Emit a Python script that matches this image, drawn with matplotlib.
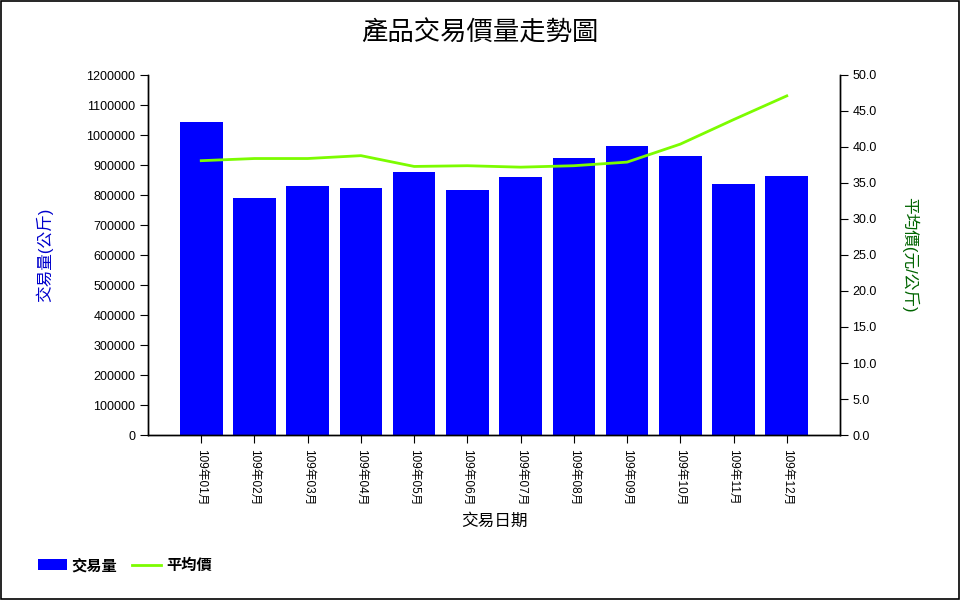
import matplotlib
matplotlib.use("Agg")
import matplotlib.pyplot as plt
from matplotlib.patches import Rectangle
import numpy as np

plt.rcParams.update({
    "font.family": ["Liberation Sans", "Noto Sans CJK TC"],
    "font.size": 9,
    "axes.linewidth": 1.0,
})

months = ["109年01月", "109年02月", "109年03月", "109年04月", "109年05月", "109年06月",
          "109年07月", "109年08月", "109年09月", "109年10月", "109年11月", "109年12月"]
volume = [1043000, 790000, 830000, 823000, 877000, 817000,
          860000, 923000, 963000, 930000, 837000, 863000]
avg_price = [38.1, 38.4, 38.4, 38.8, 37.3, 37.4, 37.2, 37.4, 37.9, 40.4, 43.8, 47.1]

BLUE, GREEN = "#0000ff", "#7cfc00"

fig = plt.figure(figsize=(9.6, 6.0), dpi=100)
ax = fig.add_axes([148 / 960, 0.275, 692 / 960, 0.6])
ax2 = ax.twinx()

x = np.arange(len(months))
ax.bar(x, volume, width=0.8, color=BLUE, label="交易量", zorder=2)
ax2.plot(x, avg_price, color=GREEN, lw=2, label="平均價", zorder=3)

ax.set_xlim(-1, 12)
ax.set_ylim(0, 1200000)
ax.set_yticks(np.arange(0, 1200001, 100000))
ax.set_yticklabels([f"{v:d}" for v in range(0, 1200001, 100000)])
ax2.set_ylim(0, 50)
ax2.set_yticks(np.arange(0, 50.1, 5))
ax2.set_yticklabels([f"{v:.1f}" for v in np.arange(0, 50.1, 5)])

ax.set_xticks(x)
ax.set_xticklabels(months, rotation=270, fontsize=8.5)
ax.tick_params(axis="x", length=6, pad=4)
ax.tick_params(axis="y", length=6, pad=3)
ax2.tick_params(axis="y", length=6, pad=3)

for a in (ax, ax2):
    a.spines["top"].set_visible(False)
ax.set_zorder(ax2.get_zorder() - 1)
ax2.patch.set_visible(False)

ax.set_ylabel("交易量(公斤)", color="#0000cc", fontsize=12, labelpad=24)
ax2.set_ylabel("平均價(元/公斤)", color="#006400", fontsize=12, rotation=270, labelpad=30)
ax.set_xlabel("交易日期", fontsize=12, labelpad=6)

fig.text(0.5, 0.945, "產品交易價量走勢圖", ha="center", va="center", fontsize=19)

h1, l1 = ax.get_legend_handles_labels()
h2, l2 = ax2.get_legend_handles_labels()
fig.legend(h1 + h2, l1 + l2, loc="center left", bbox_to_anchor=(0.025, 0.057),
           ncol=2, frameon=False, prop={"weight": "bold", "size": 11},
           handlelength=1.9, handletextpad=0.3, columnspacing=1.0)

fig.patches.append(Rectangle((0.001, 0.001), 0.998, 0.997, transform=fig.transFigure,
                             fill=False, edgecolor="black", lw=1.2))

fig.savefig("out.png", dpi=100)
